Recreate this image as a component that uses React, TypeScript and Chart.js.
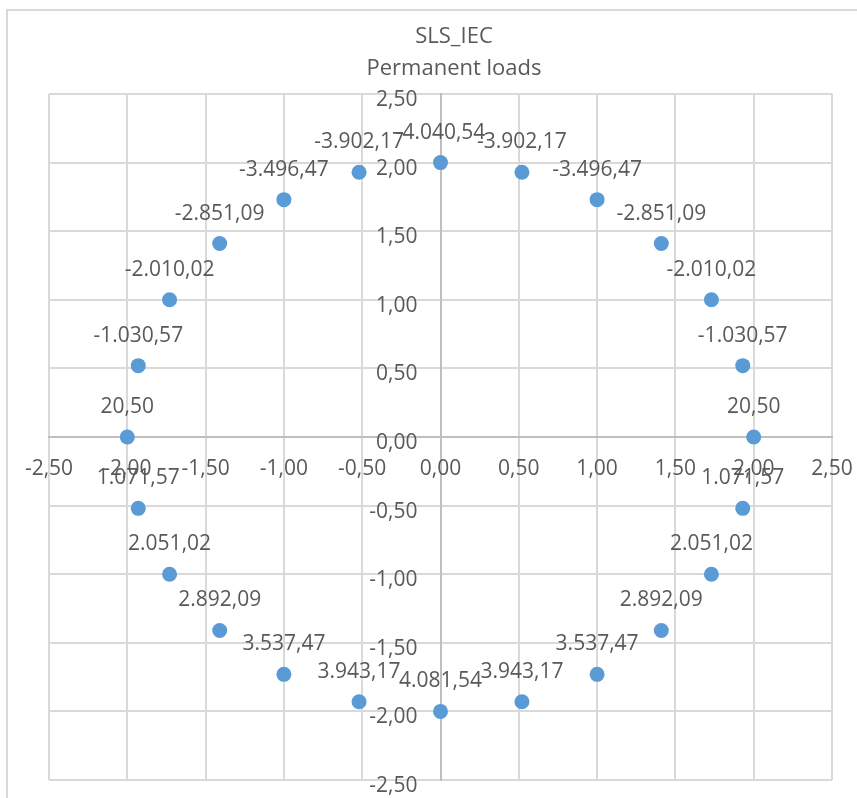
import React, { useEffect, useRef } from "react";
import { Chart, registerables } from "chart.js";

Chart.register(...registerables);

const TITLE_LINES = ["SLS_IEC", "Permanent loads"];

const X_VALUES = [
  0, 0.52, 1.0, 1.41, 1.73, 1.93, 2.0, 1.93, 1.73, 1.41, 1.0, 0.52,
  0, -0.52, -1.0, -1.41, -1.73, -1.93, -2.0, -1.93, -1.73, -1.41, -1.0, -0.52,
];
const Y_VALUES = [
  2.0, 1.93, 1.73, 1.41, 1.0, 0.52, 0, -0.52, -1.0, -1.41, -1.73, -1.93,
  -2.0, -1.93, -1.73, -1.41, -1.0, -0.52, 0, 0.52, 1.0, 1.41, 1.73, 1.93,
];
const LABEL_VALUES = [
  -4040.54, -3902.17, -3496.47, -2851.09, -2010.02, -1030.57, 20.5, 1071.57,
  2051.02, 2892.09, 3537.47, 3943.17, 4081.54, 3943.17, 3537.47, 2892.09,
  2051.02, 1071.57, 20.5, -1030.57, -2010.02, -2851.09, -3496.47, -3902.17,
];

const AXIS_MIN = -2.5;
const AXIS_MAX = 2.5;
const AXIS_STEP = 0.5;

const FONT = "'Open Sans', 'Noto Sans', sans-serif";
const TEXT_COLOR = "#595959";
const POINT_COLOR = "#5B9BD5";
const GRID_COLOR = "#D9D9D9";
const AXIS_COLOR = "#BFBFBF";

function fmt(v: number): string {
  const neg = v < 0 && Math.abs(v) >= 0.005;
  const [ip, dp] = Math.abs(v).toFixed(2).split(".");
  const withSep = ip.replace(/\B(?=(\d{3})+(?!\d))/g, ".");
  return (neg ? "-" : "") + withSep + "," + dp;
}

const framePlugin = {
  id: "frame",
  beforeDraw(chart: any) {
    const { ctx, width, height } = chart;
    ctx.save();
    ctx.fillStyle = "#ffffff";
    ctx.fillRect(0, 0, width, height);
    ctx.strokeStyle = GRID_COLOR;
    ctx.lineWidth = 2;
    ctx.strokeRect(7, 10, width + 40, height + 40);
    ctx.restore();
  },
};

const titlePlugin = {
  id: "twoLineTitle",
  afterDraw(chart: any) {
    const { ctx } = chart;
    ctx.save();
    ctx.fillStyle = TEXT_COLOR;
    ctx.font = `22px ${FONT}`;
    ctx.textAlign = "center";
    ctx.textBaseline = "alphabetic";
    ctx.fillText(TITLE_LINES[0], 454, 43);
    ctx.fillText(TITLE_LINES[1], 454, 75);
    ctx.restore();
  },
};

// Tick labels placed beside the crossing axes (Excel style), positioned from the scales.
const crossAxisLabelsPlugin = {
  id: "crossAxisLabels",
  afterDatasetsDraw(chart: any) {
    const { ctx } = chart;
    const xs = chart.scales.x;
    const ys = chart.scales.y;
    const x0 = xs.getPixelForValue(0);
    const y0 = ys.getPixelForValue(0);
    ctx.save();
    ctx.fillStyle = TEXT_COLOR;
    ctx.font = `21px ${FONT}`;
    ctx.textBaseline = "alphabetic";
    ctx.textAlign = "center";
    xs.ticks.forEach((t: any) => {
      ctx.fillText(fmt(t.value), xs.getPixelForValue(t.value), y0 + 38);
    });
    ctx.textAlign = "right";
    ys.ticks.forEach((t: any) => {
      ctx.fillText(fmt(t.value), x0 - 23, ys.getPixelForValue(t.value) + 12);
    });
    ctx.restore();
  },
};

const dataLabelPlugin = {
  id: "dataLabels",
  afterDatasetsDraw(chart: any) {
    const { ctx } = chart;
    const meta = chart.getDatasetMeta(0);
    ctx.save();
    ctx.fillStyle = TEXT_COLOR;
    ctx.font = `21px ${FONT}`;
    ctx.textAlign = "center";
    ctx.textBaseline = "alphabetic";
    meta.data.forEach((el: any, i: number) => {
      ctx.fillText(fmt(LABEL_VALUES[i]), el.x, el.y - 24);
    });
    ctx.restore();
  },
};

export default function App() {
  const ref = useRef<HTMLCanvasElement | null>(null);

  useEffect(() => {
    document.body.style.margin = "0";
    document.body.style.overflow = "hidden";
    const canvas = ref.current;
    if (!canvas) return;
    const points = X_VALUES.map((x, i) => ({ x, y: Y_VALUES[i] }));
    const tickOpts = {
      stepSize: AXIS_STEP,
      display: false,
      padding: 0,
      autoSkip: false,
    };
    const chart = new Chart(canvas, {
      type: "scatter",
      data: {
        datasets: [
          {
            data: points,
            backgroundColor: POINT_COLOR,
            borderColor: POINT_COLOR,
            borderWidth: 0,
            pointRadius: 7.5,
            pointHoverRadius: 7.5,
          },
        ],
      },
      options: {
        animation: false,
        responsive: false,
        devicePixelRatio: 1,
        layout: { padding: { left: 49, right: 25, top: 94, bottom: 18 } },
        plugins: {
          legend: { display: false },
          tooltip: { enabled: false },
          title: { display: false },
        },
        scales: {
          x: {
            type: "linear",
            min: AXIS_MIN,
            max: AXIS_MAX,
            position: { y: 0 } as any,
            grid: { color: GRID_COLOR, lineWidth: 2, drawTicks: false },
            border: { color: AXIS_COLOR, width: 2 },
            ticks: tickOpts,
          },
          y: {
            type: "linear",
            min: AXIS_MIN,
            max: AXIS_MAX,
            position: { x: 0 } as any,
            grid: { color: GRID_COLOR, lineWidth: 2, drawTicks: false },
            border: { color: AXIS_COLOR, width: 2 },
            ticks: tickOpts,
          },
        },
      },
      plugins: [framePlugin, titlePlugin, crossAxisLabelsPlugin, dataLabelPlugin],
    });
    return () => chart.destroy();
  }, []);

  return (
    <canvas
      ref={ref}
      width={857}
      height={798}
      style={{ display: "block", position: "absolute", left: 0, top: 0 }}
    />
  );
}
